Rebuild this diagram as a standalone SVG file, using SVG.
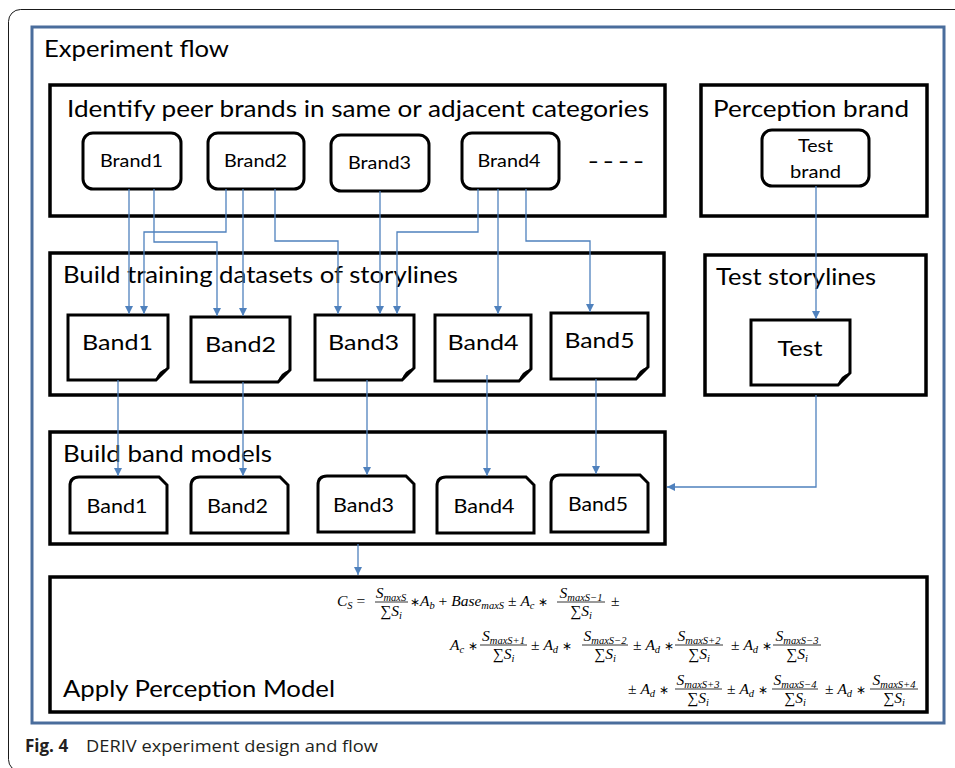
<svg xmlns="http://www.w3.org/2000/svg" width="955" height="768" viewBox="0 0 955 768">
  <defs>
    <style>
      .panel { fill: #ffffff; stroke: #000000; stroke-width: 3.5; }
      .node { fill: #ffffff; stroke: #000000; stroke-width: 3; }
      .title { font-family: Lato, "Open Sans", sans-serif; font-size: 23px; fill: #000000; }
      .lbl { font-family: Lato, "Open Sans", sans-serif; fill: #000000; text-anchor: middle; }
      .brand { font-size: 18px; }
      .band { font-size: 21px; }
      .model { font-size: 19px; }
      .math { font-family: "Liberation Serif", "Times New Roman", serif; font-size: 15.5px; fill: #000000; }
      .it { font-style: italic; }
      .sub { font-style: italic; font-size: 10.5px; }
      .op { font-size: 12px; }
      .mid { text-anchor: middle; }
      .bar { stroke: #000000; stroke-width: 0.8; }
      .conn { fill: none; stroke: #4f81bd; stroke-width: 1.3; }
      .cap { font-family: "Open Sans", "Noto Sans", sans-serif; font-size: 17px; fill: #231f20; }
    </style>
    <marker id="arrow" viewBox="0 0 10 10" refX="10" refY="5" markerWidth="8" markerHeight="8" markerUnits="userSpaceOnUse" orient="auto">
      <path d="M0 0 L10 5 L0 10 Z" fill="#4f81bd"/>
    </marker>
  </defs>

  <rect width="955" height="768" fill="#ffffff"/>

  <!-- page frame and figure frame -->
  <rect x="8.5" y="9.5" width="1000" height="762" rx="12" fill="none" stroke="#1a1a1a" stroke-width="1"/>
  <rect x="32" y="27" width="912" height="696" fill="none" stroke="#4a6d9c" stroke-width="3"/>
  <text class="title" x="44" y="57" font-size="22" textLength="185" lengthAdjust="spacingAndGlyphs">Experiment flow</text>

  <!-- stage 1: peer brands -->
  <g id="peer-brands">
    <rect class="panel" x="50" y="85" width="615" height="131"/>
    <text class="title" x="67" y="117" font-size="24" textLength="582" lengthAdjust="spacingAndGlyphs">Identify peer brands in same or adjacent categories</text>
  </g>
  <g id="brand1">
    <rect class="node" x="83" y="133" width="98" height="56" rx="10"/>
    <text class="lbl brand" x="131.5" y="167" textLength="63" lengthAdjust="spacingAndGlyphs">Brand1</text>
  </g>
  <g id="brand2">
    <rect class="node" x="208" y="133" width="96" height="56" rx="10"/>
    <text class="lbl brand" x="255.5" y="167" textLength="63" lengthAdjust="spacingAndGlyphs">Brand2</text>
  </g>
  <g id="brand3">
    <rect class="node" x="331" y="135" width="98" height="56" rx="10"/>
    <text class="lbl brand" x="379.5" y="169" textLength="63" lengthAdjust="spacingAndGlyphs">Brand3</text>
  </g>
  <g id="brand4">
    <rect class="node" x="462" y="133" width="97" height="56" rx="10"/>
    <text class="lbl brand" x="509" y="167" textLength="63" lengthAdjust="spacingAndGlyphs">Brand4</text>
  </g>
  <g id="more-brands">
    <text class="lbl brand" x="616" y="168" font-size="20" font-weight="bold" textLength="56" lengthAdjust="spacingAndGlyphs">– – – –</text>
  </g>

  <!-- perception brand -->
  <g id="perception-brand">
    <rect class="panel" x="701" y="85" width="226" height="131"/>
    <text class="title" x="713" y="117" font-size="24" textLength="196" lengthAdjust="spacingAndGlyphs">Perception brand</text>
  </g>
  <g id="test-brand">
    <rect class="node" x="762" y="130" width="107" height="56" rx="10"/>
    <text class="lbl brand" x="815.5" y="152" textLength="35" lengthAdjust="spacingAndGlyphs">Test</text>
    <text class="lbl brand" x="815.5" y="178" textLength="51" lengthAdjust="spacingAndGlyphs">brand</text>
  </g>

  <!-- stage 2: training datasets -->
  <g id="training-datasets">
    <rect class="panel" x="50" y="253" width="614" height="142"/>
    <text class="title" x="63" y="283" font-size="22" textLength="395" lengthAdjust="spacingAndGlyphs">Build training datasets of storylines</text>
  </g>
  <g id="doc-band1">
    <path class="node" d="M68 315 H168 V368 L156 380 H68 Z"/>
    <path d="M156 380 Q158 370 168 368 Q163 372 161 376 Z" fill="#000"/>
    <text class="lbl band" x="117.5" y="350" textLength="71" lengthAdjust="spacingAndGlyphs">Band1</text>
  </g>
  <g id="doc-band2">
    <path class="node" d="M191 317 H290 V370 L278 382 H191 Z"/>
    <path d="M278 382 Q280 372 290 370 Q285 374 283 378 Z" fill="#000"/>
    <text class="lbl band" x="240.5" y="352" textLength="71" lengthAdjust="spacingAndGlyphs">Band2</text>
  </g>
  <g id="doc-band3">
    <path class="node" d="M315 315 H414 V368 L402 380 H315 Z"/>
    <path d="M402 380 Q404 370 414 368 Q409 372 407 376 Z" fill="#000"/>
    <text class="lbl band" x="363.5" y="350" textLength="71" lengthAdjust="spacingAndGlyphs">Band3</text>
  </g>
  <g id="doc-band4">
    <path class="node" d="M435 315 H531 V369 L519 381 H435 Z"/>
    <path d="M519 381 Q521 371 531 369 Q526 373 524 377 Z" fill="#000"/>
    <text class="lbl band" x="483" y="350" textLength="71" lengthAdjust="spacingAndGlyphs">Band4</text>
  </g>
  <g id="doc-band5">
    <path class="node" d="M551 313 H648 V367 L636 379 H551 Z"/>
    <path d="M636 379 Q638 369 648 367 Q643 371 641 375 Z" fill="#000"/>
    <text class="lbl band" x="599.5" y="348" textLength="70" lengthAdjust="spacingAndGlyphs">Band5</text>
  </g>

  <!-- test storylines -->
  <g id="test-storylines">
    <rect class="panel" x="705" y="255" width="221" height="140"/>
    <text class="title" x="716" y="285" font-size="22" textLength="160" lengthAdjust="spacingAndGlyphs">Test storylines</text>
  </g>
  <g id="doc-test">
    <path class="node" d="M751 320 H850 V373 L838 385 H751 Z"/>
    <path d="M838 385 Q840 375 850 373 Q845 377 843 381 Z" fill="#000"/>
    <text class="lbl band" x="800" y="356" textLength="45" lengthAdjust="spacingAndGlyphs">Test</text>
  </g>

  <!-- stage 3: band models -->
  <g id="band-models">
    <rect class="panel" x="50" y="432" width="615" height="112"/>
    <text class="title" x="63" y="462" font-size="22" textLength="209" lengthAdjust="spacingAndGlyphs">Build band models</text>
  </g>
  <g id="model-band1">
    <path class="node" d="M79 477 H159 L167 485 V533 H70 V486 Q70 477 79 477 Z"/>
    <text class="lbl model" x="117" y="513" textLength="61" lengthAdjust="spacingAndGlyphs">Band1</text>
  </g>
  <g id="model-band2">
    <path class="node" d="M200 477 H280 L288 485 V533 H191 V486 Q191 477 200 477 Z"/>
    <text class="lbl model" x="237.5" y="513" textLength="61" lengthAdjust="spacingAndGlyphs">Band2</text>
  </g>
  <g id="model-band3">
    <path class="node" d="M327 476 H406 L414 484 V532 H318 V485 Q318 476 327 476 Z"/>
    <text class="lbl model" x="363.5" y="512" textLength="61" lengthAdjust="spacingAndGlyphs">Band3</text>
  </g>
  <g id="model-band4">
    <path class="node" d="M446 477 H526 L534 485 V533 H437 V486 Q437 477 446 477 Z"/>
    <text class="lbl model" x="484" y="513" textLength="61" lengthAdjust="spacingAndGlyphs">Band4</text>
  </g>
  <g id="model-band5">
    <path class="node" d="M560 475 H640 L648 483 V532 H551 V484 Q551 475 560 475 Z"/>
    <text class="lbl model" x="598" y="511" textLength="60" lengthAdjust="spacingAndGlyphs">Band5</text>
  </g>

  <!-- stage 4: perception model -->
  <g id="perception-model">
    <rect class="panel" x="50" y="577" width="877" height="135"/>
    <text class="title" x="63" y="697" font-size="23" textLength="272" lengthAdjust="spacingAndGlyphs">Apply Perception Model</text>

    <!-- line 1 -->
    <text class="math" x="337" y="606"><tspan class="it">C</tspan><tspan class="sub" dy="3">S</tspan><tspan dy="-3"> =</tspan></text>
    <text class="math mid" x="391" y="598"><tspan class="it">S</tspan><tspan class="sub" dy="3">maxS</tspan></text>
    <line class="bar" x1="375" y1="602" x2="408" y2="602"/>
    <text class="math mid" x="391" y="616">∑<tspan class="it">S</tspan><tspan class="sub" dy="3">i</tspan></text>
    <text class="math" x="410" y="606"><tspan class="op">∗</tspan><tspan class="it">A</tspan><tspan class="sub" dy="3">b</tspan><tspan dy="-3"> + </tspan><tspan class="it">Base</tspan><tspan class="sub" dy="3">maxS</tspan><tspan dy="-3"> ± </tspan><tspan class="it">A</tspan><tspan class="sub" dy="3">c</tspan><tspan dy="-3"> </tspan><tspan class="op">∗</tspan></text>
    <text class="math mid" x="581" y="598"><tspan class="it">S</tspan><tspan class="sub" dy="3">maxS−1</tspan></text>
    <line class="bar" x1="557" y1="602" x2="605" y2="602"/>
    <text class="math mid" x="581" y="616">∑<tspan class="it">S</tspan><tspan class="sub" dy="3">i</tspan></text>
    <text class="math" x="611" y="606">±</text>

    <!-- line 2 -->
    <text class="math" x="450" y="650"><tspan class="it">A</tspan><tspan class="sub" dy="3">c</tspan><tspan dy="-3"> </tspan><tspan class="op">∗</tspan></text>
    <text class="math mid" x="503.5" y="641"><tspan class="it">S</tspan><tspan class="sub" dy="3">maxS+1</tspan></text>
    <line class="bar" x1="480" y1="645" x2="527" y2="645"/>
    <text class="math mid" x="503.5" y="659">∑<tspan class="it">S</tspan><tspan class="sub" dy="3">i</tspan></text>
    <text class="math" x="531" y="650">± <tspan class="it">A</tspan><tspan class="sub" dy="3">d</tspan><tspan dy="-3"> </tspan><tspan class="op">∗</tspan></text>
    <text class="math mid" x="605" y="641"><tspan class="it">S</tspan><tspan class="sub" dy="3">maxS−2</tspan></text>
    <line class="bar" x1="582" y1="645" x2="628" y2="645"/>
    <text class="math mid" x="605" y="659">∑<tspan class="it">S</tspan><tspan class="sub" dy="3">i</tspan></text>
    <text class="math" x="633" y="650">± <tspan class="it">A</tspan><tspan class="sub" dy="3">d</tspan><tspan dy="-3"> </tspan><tspan class="op">∗</tspan></text>
    <text class="math mid" x="699" y="641"><tspan class="it">S</tspan><tspan class="sub" dy="3">maxS+2</tspan></text>
    <line class="bar" x1="675" y1="645" x2="723" y2="645"/>
    <text class="math mid" x="699" y="659">∑<tspan class="it">S</tspan><tspan class="sub" dy="3">i</tspan></text>
    <text class="math" x="731" y="650">± <tspan class="it">A</tspan><tspan class="sub" dy="3">d</tspan><tspan dy="-3"> </tspan><tspan class="op">∗</tspan></text>
    <text class="math mid" x="797" y="641"><tspan class="it">S</tspan><tspan class="sub" dy="3">maxS−3</tspan></text>
    <line class="bar" x1="773" y1="645" x2="821" y2="645"/>
    <text class="math mid" x="797" y="659">∑<tspan class="it">S</tspan><tspan class="sub" dy="3">i</tspan></text>

    <!-- line 3 -->
    <text class="math" x="628" y="694">± <tspan class="it">A</tspan><tspan class="sub" dy="3">d</tspan><tspan dy="-3"> </tspan><tspan class="op">∗</tspan></text>
    <text class="math mid" x="698" y="685"><tspan class="it">S</tspan><tspan class="sub" dy="3">maxS+3</tspan></text>
    <line class="bar" x1="675" y1="689" x2="722" y2="689"/>
    <text class="math mid" x="698" y="703">∑<tspan class="it">S</tspan><tspan class="sub" dy="3">i</tspan></text>
    <text class="math" x="727" y="694">± <tspan class="it">A</tspan><tspan class="sub" dy="3">d</tspan><tspan dy="-3"> </tspan><tspan class="op">∗</tspan></text>
    <text class="math mid" x="795" y="685"><tspan class="it">S</tspan><tspan class="sub" dy="3">maxS−4</tspan></text>
    <line class="bar" x1="772" y1="689" x2="818" y2="689"/>
    <text class="math mid" x="795" y="703">∑<tspan class="it">S</tspan><tspan class="sub" dy="3">i</tspan></text>
    <text class="math" x="825" y="694">± <tspan class="it">A</tspan><tspan class="sub" dy="3">d</tspan><tspan dy="-3"> </tspan><tspan class="op">∗</tspan></text>
    <text class="math mid" x="894" y="685"><tspan class="it">S</tspan><tspan class="sub" dy="3">maxS+4</tspan></text>
    <line class="bar" x1="870" y1="689" x2="918" y2="689"/>
    <text class="math mid" x="894" y="703">∑<tspan class="it">S</tspan><tspan class="sub" dy="3">i</tspan></text>
  </g>

  <!-- connectors -->
  <g id="connectors">
    <path class="conn" d="M129 189 V314" marker-end="url(#arrow)"/>
    <path class="conn" d="M154 189 V242 H217 V316" marker-end="url(#arrow)"/>
    <path class="conn" d="M226 189 V232 H144 V314" marker-end="url(#arrow)"/>
    <path class="conn" d="M243 189 V316" marker-end="url(#arrow)"/>
    <path class="conn" d="M275 189 V241 H338 V314" marker-end="url(#arrow)"/>
    <path class="conn" d="M380 191 V314" marker-end="url(#arrow)"/>
    <path class="conn" d="M478 189 V232 H397 V314" marker-end="url(#arrow)"/>
    <path class="conn" d="M498 189 V314" marker-end="url(#arrow)"/>
    <path class="conn" d="M526 189 V241 H590 V312" marker-end="url(#arrow)"/>
    <path class="conn" d="M816 186 V319" marker-end="url(#arrow)"/>
    <path class="conn" d="M118 380 V476" marker-end="url(#arrow)"/>
    <path class="conn" d="M243 382 V476" marker-end="url(#arrow)"/>
    <path class="conn" d="M367 380 V475" marker-end="url(#arrow)"/>
    <path class="conn" d="M487 375 V476" marker-end="url(#arrow)"/>
    <path class="conn" d="M596 379 V474" marker-end="url(#arrow)"/>
    <path class="conn" d="M816 395 V487 H667" marker-end="url(#arrow)"/>
    <path class="conn" d="M358 544 V575" marker-end="url(#arrow)"/>
  </g>

  <!-- caption -->
  <text class="cap" x="25" y="752"><tspan font-weight="bold">Fig. 4</tspan></text>
  <text class="cap" x="86" y="752" textLength="292" lengthAdjust="spacingAndGlyphs">DERIV experiment design and flow</text>
</svg>
